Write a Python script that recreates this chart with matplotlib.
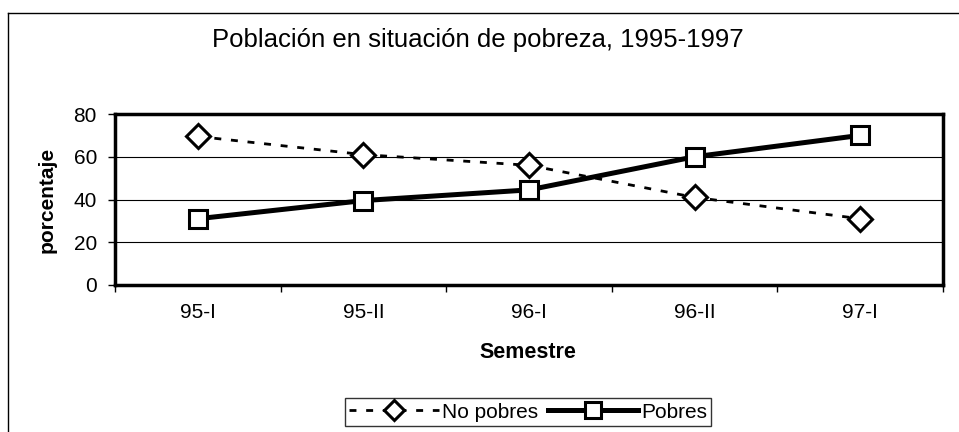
import numpy as np
import matplotlib
matplotlib.use("Agg")
import matplotlib.pyplot as plt
from matplotlib.lines import Line2D

plt.rcParams["font.family"] = ["Liberation Sans", "DejaVu Sans"]

semestres = ["95-I", "95-II", "96-I", "96-II", "97-I"]
no_pobres = [69.5, 61.0, 56.0, 41.0, 31.0]
pobres = [31.0, 39.5, 44.5, 60.0, 70.0]
yticks = [0, 20, 40, 60, 80]

W, H = 959, 432
fig = plt.figure(figsize=(W / 100, H / 100), dpi=100)
ax = fig.add_axes([115 / W, 1 - 285 / H, (943 - 115) / W, (285 - 114) / H])

x = np.arange(len(semestres))
ax.plot(x, no_pobres, color="black", lw=2, ls=(0, (2.5, 3.5)), marker="D", ms=12,
        mfc="white", mec="black", mew=2.2, label="No pobres", zorder=3)
ax.plot(x, pobres, color="black", lw=3.6, marker="s", ms=13.5,
        mfc="white", mec="black", mew=2.2, label="Pobres", zorder=4)

ax.set_xlim(-0.5, len(semestres) - 0.5)
ax.set_ylim(0, 80)
ax.set_yticks(yticks)
ax.set_xticks(x)
ax.set_xticklabels(semestres)
ax.set_xticks(np.arange(len(semestres) + 1) - 0.5, minor=True)
ax.tick_params(axis="x", which="major", length=0, labelsize=15, pad=13)
ax.tick_params(axis="x", which="minor", length=5, width=1, direction="out")
ax.tick_params(axis="y", length=5, width=1, direction="out", labelsize=15, pad=8)
for v in yticks[1:-1]:
    ax.axhline(v, color="black", lw=0.8, zorder=1)
for s in ax.spines.values():
    s.set_linewidth(2.5)

ax.set_xlabel("Semestre", fontsize=15.5, fontweight="bold", va="center")
ax.xaxis.set_label_coords((528 - 115) / 828, (285 - 353) / 171)
ax.set_ylabel("porcentaje", fontsize=15, fontweight="bold", va="center")
ax.yaxis.set_label_coords((47 - 115) / 828, 0.5)
fig.text(478 / W, 1 - 47 / H, "Población en situación de pobreza, 1995-1997",
         ha="center", va="baseline", fontsize=18.5)

leg = ax.legend(loc="center", bbox_to_anchor=(528 / W, 1 - 412 / H),
                bbox_transform=fig.transFigure, ncol=2, frameon=True, fancybox=False,
                fontsize=15, handlelength=4.3, columnspacing=0.5, handletextpad=0.15,
                borderpad=0.2, borderaxespad=0, markerscale=0.85)
leg.get_frame().set_edgecolor("black")
leg.get_frame().set_linewidth(1)

# outer chart frame (top and left edges)
fig.add_artist(Line2D([8 / W, 1], [1 - 13 / H, 1 - 13 / H], transform=fig.transFigure,
                      color="black", lw=1))
fig.add_artist(Line2D([8 / W, 8 / W], [1 - 13 / H, 0], transform=fig.transFigure,
                      color="black", lw=1))

fig.savefig("out.png", dpi=100)
